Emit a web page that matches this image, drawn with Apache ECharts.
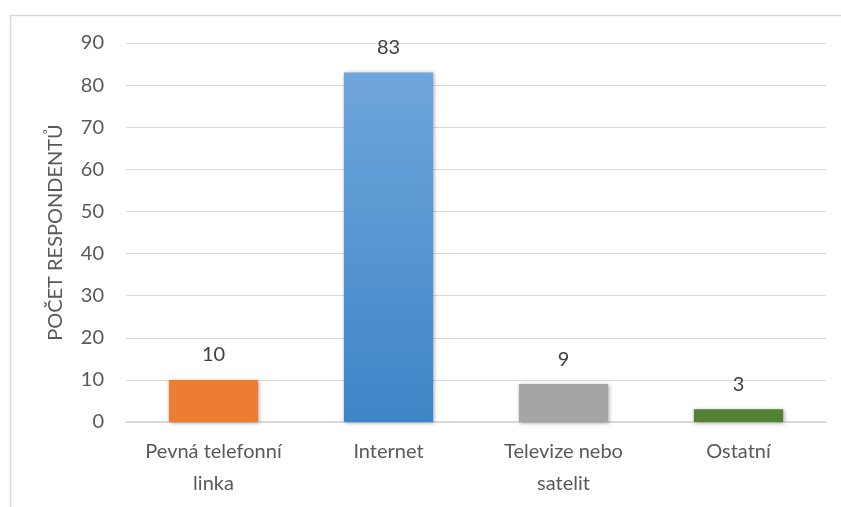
<!DOCTYPE html>
<html>
<head>
<meta charset="utf-8">
<script src="https://cdn.jsdelivr.net/npm/echarts@6/dist/echarts.min.js"></script>
<style>html,body{margin:0;padding:0;background:#fff}#c{width:841px;height:507px}</style>
</head>
<body>
<div id="c"></div>
<script>
const categories = ['Pevná telefonní\nlinka', 'Internet', 'Televize nebo\nsatelit', 'Ostatní'];
const values = [10, 83, 9, 3];
const yTicks = { min: 0, max: 90, interval: 10 };
const axisTitle = 'POČET RESPONDENTŮ';

const barColors = [
  '#ED7D31',
  new echarts.graphic.LinearGradient(0, 0, 0, 1, [{offset: 0, color: '#6FA6DC'}, {offset: 1, color: '#3D85C6'}]),
  '#A5A5A5',
  '#548235'
];

const chart = echarts.init(document.getElementById('c'));
chart.setOption({
  animation: false,
  textStyle: { fontFamily: 'Lato' },
  graphic: [{
    type: 'rect', left: 8, top: 13, shape: { width: 900, height: 600 },
    style: { fill: 'none', stroke: '#D9D9D9', lineWidth: 1.5 }, silent: true
  }],
  grid: { left: 126, right: 15, top: 43, bottom: 85, containLabel: false },
  xAxis: {
    type: 'category',
    data: categories,
    axisLine: { lineStyle: { color: '#D9D9D9', width: 2 } },
    axisTick: { show: false },
    axisLabel: { color: '#595959', fontSize: 20, lineHeight: 32, margin: 14, interval: 0 }
  },
  yAxis: {
    type: 'value',
    min: yTicks.min, max: yTicks.max, interval: yTicks.interval,
    name: axisTitle,
    nameLocation: 'middle',
    nameGap: 60,
    nameTextStyle: { color: '#595959', fontSize: 20 },
    axisLine: { show: false },
    axisTick: { show: false },
    axisLabel: { color: '#595959', fontSize: 20, margin: 22 },
    splitLine: { lineStyle: { color: '#D9D9D9', width: 1 } }
  },
  series: [{
    type: 'bar',
    barWidth: '51%',
    data: values.map((v, i) => ({ value: v, itemStyle: { color: barColors[i] } })),
    itemStyle: { shadowBlur: 4, shadowColor: 'rgba(0,0,0,0.35)', shadowOffsetX: 1, shadowOffsetY: 1 },
    label: { show: true, position: 'top', distance: 15, color: '#404040', fontSize: 20 }
  }]
});
</script>
</body>
</html>
